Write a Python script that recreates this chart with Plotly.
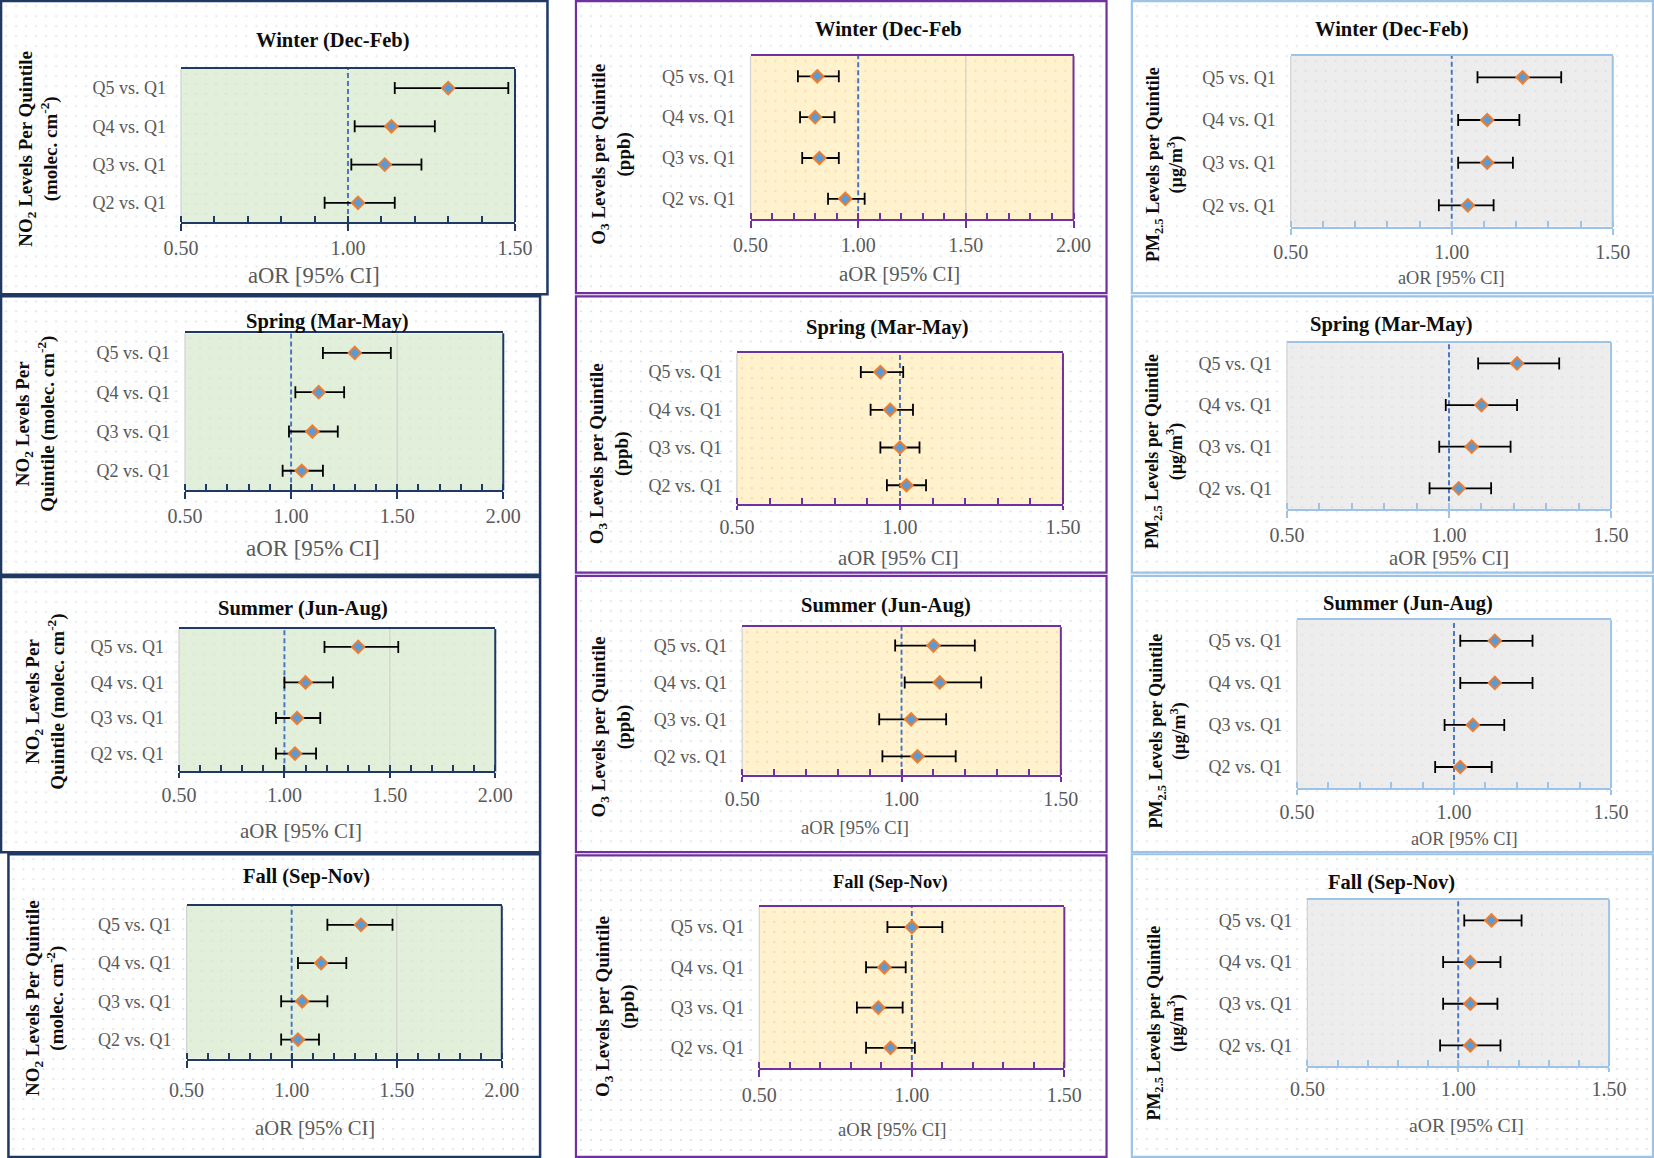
import base64
import plotly.graph_objects as go

# ---------------- data ----------------
categories = ["Q2 vs. Q1", "Q3 vs. Q1", "Q4 vs. Q1", "Q5 vs. Q1"]
season_titles = ["Winter (Dec-Feb)", "Spring (Mar-May)", "Summer (Jun-Aug)", "Fall (Sep-Nov)"]
o3_season_titles = ["Winter (Dec-Feb", "Spring (Mar-May)", "Summer (Jun-Aug)", "Fall (Sep-Nov)"]
x_axis_title = "aOR [95% CI]"

no2_winter_aor = [1.03, 1.11, 1.13, 1.30]
no2_winter_lo = [0.93, 1.01, 1.02, 1.14]
no2_winter_hi = [1.14, 1.22, 1.26, 1.48]
no2_spring_aor = [1.05, 1.10, 1.13, 1.30]
no2_spring_lo = [0.96, 0.99, 1.02, 1.15]
no2_spring_hi = [1.15, 1.22, 1.25, 1.47]
no2_summer_aor = [1.05, 1.06, 1.10, 1.35]
no2_summer_lo = [0.96, 0.96, 1.00, 1.19]
no2_summer_hi = [1.15, 1.17, 1.23, 1.54]
no2_fall_aor = [1.03, 1.05, 1.14, 1.33]
no2_fall_lo = [0.95, 0.95, 1.03, 1.17]
no2_fall_hi = [1.13, 1.17, 1.26, 1.48]

o3_winter_aor = [0.94, 0.82, 0.80, 0.81]
o3_winter_lo = [0.86, 0.74, 0.73, 0.72]
o3_winter_hi = [1.03, 0.91, 0.89, 0.91]
o3_spring_aor = [1.02, 1.00, 0.97, 0.94]
o3_spring_lo = [0.96, 0.94, 0.91, 0.88]
o3_spring_hi = [1.08, 1.06, 1.04, 1.01]
o3_summer_aor = [1.05, 1.03, 1.12, 1.10]
o3_summer_lo = [0.94, 0.93, 1.01, 0.98]
o3_summer_hi = [1.17, 1.14, 1.25, 1.23]
o3_fall_aor = [0.93, 0.89, 0.91, 1.00]
o3_fall_lo = [0.85, 0.82, 0.85, 0.92]
o3_fall_hi = [1.01, 0.97, 0.98, 1.10]

pm_winter_aor = [1.05, 1.11, 1.11, 1.22]
pm_winter_lo = [0.96, 1.02, 1.02, 1.08]
pm_winter_hi = [1.13, 1.19, 1.21, 1.34]
pm_spring_aor = [1.03, 1.07, 1.10, 1.21]
pm_spring_lo = [0.94, 0.97, 0.99, 1.09]
pm_spring_hi = [1.13, 1.19, 1.21, 1.34]
pm_summer_aor = [1.02, 1.06, 1.13, 1.13]
pm_summer_lo = [0.94, 0.97, 1.02, 1.02]
pm_summer_hi = [1.12, 1.16, 1.25, 1.25]
pm_fall_aor = [1.04, 1.04, 1.04, 1.11]
pm_fall_lo = [0.94, 0.95, 0.95, 1.02]
pm_fall_hi = [1.14, 1.13, 1.14, 1.21]

x_min = 0.5
no2_x_max = [1.5, 2.0, 2.0, 2.0]
o3_x_max = [2.0, 1.5, 1.5, 1.5]
pm_x_max = [1.5, 1.5, 1.5, 1.5]
major_ticks = [0.5, 1.0, 1.5, 2.0]
reference_aor = 1.0

no2_ytitles = [["NO<sub>2</sub> Levels Per Quintile", "(molec. cm<sup>-2</sup>)"],
               ["NO<sub>2</sub> Levels Per", "Quintile (molec. cm<sup>-2</sup>)"],
               ["NO<sub>2</sub> Levels Per", "Quintile (molec. cm<sup>-2</sup>)"],
               ["NO<sub>2</sub> Levels Per Quintile", "(molec. cm<sup>-2</sup>)"]]
o3_ytitle = ["O<sub>3</sub> Levels per Quintile", "(ppb)"]
pm_ytitle = ["PM<sub>2.5</sub> Levels per Quintile", "(µg/m<sup>3</sup>)"]

# ---------------- layout geometry (reference pixel space 1568 x 1098) ----------------
RW, RH = 1568.0, 1098.0
FW, FH = 1654, 1158
S = FW / RW


def fx(p):
    return p / RW


def fy(p):
    return 1 - p / RH


FONT = "Liberation Serif, Times New Roman, serif"

groups = [
    dict(data=[(no2_winter_aor, no2_winter_lo, no2_winter_hi), (no2_spring_aor, no2_spring_lo, no2_spring_hi),
               (no2_summer_aor, no2_summer_lo, no2_summer_hi), (no2_fall_aor, no2_fall_lo, no2_fall_hi)],
         titles=season_titles, xmax=no2_x_max, ytitles=no2_ytitles,
         frame_color="#1F3864", frame_w=2.5, axis_color="#1F3864", bg="#E2EFDA", dot_in="#D5E3CC",
         frames=[(1, 1, 519, 279), (1, 281, 512, 545), (1, 547, 512, 808), (8, 810, 512, 1097)],
         plots=[(171.6, 65.4, 488.2, 210.4), (175.4, 316.0, 477.1, 465.0),
                (169.7, 596.5, 469.5, 731.4), (176.9, 858.8, 475.7, 1003.8)],
         title_pos=[(316, 38), (310, 305), (287, 577), (291, 831)], title_size=[20.5, 20.5, 20.5, 20.5],
         ytitle_pos=[(37, 141), (34, 402), (43, 665), (43, 946)], ytitle_size=19,
         aor_pos=[(297.5, 261), (297, 520), (285, 788), (299, 1069.5)], aor_size=[22.6, 22.9, 20.9, 20.6],
         x_off=[26, 26, 23.4, 30.8]),
    dict(data=[(o3_winter_aor, o3_winter_lo, o3_winter_hi), (o3_spring_aor, o3_spring_lo, o3_spring_hi),
               (o3_summer_aor, o3_summer_lo, o3_summer_hi), (o3_fall_aor, o3_fall_lo, o3_fall_hi)],
         titles=o3_season_titles, xmax=o3_x_max, ytitles=[o3_ytitle] * 4,
         frame_color="#7030A0", frame_w=2.2, axis_color="#7030A0", bg="#FFF2CC", dot_in="#F8CBAD",
         frames=[(546, 1, 1049, 278), (546, 281, 1049, 543), (546, 546, 1049, 808), (546, 811, 1049, 1097)],
         plots=[(711.5, 53.0, 1017.7, 207.9), (698.6, 334.9, 1007.7, 478.0),
                (703.6, 594.6, 1005.7, 734.6), (719.8, 860.0, 1009.0, 1012.6)],
         title_pos=[(842, 28), (841.5, 311), (839.5, 574), (844.5, 837)], title_size=[20.5, 20.5, 20.5, 18.5],
         ytitle_pos=[(580, 146), (578, 430), (580, 689), (583, 954)], ytitle_size=19,
         aor_pos=[(853, 259), (852, 529), (811, 785), (846, 1071)], aor_size=[20.8, 20.7, 18.5, 18.6],
         x_off=[25.6, 23, 23.3, 26.7]),
    dict(data=[(pm_winter_aor, pm_winter_lo, pm_winter_hi), (pm_spring_aor, pm_spring_lo, pm_spring_hi),
               (pm_summer_aor, pm_summer_lo, pm_summer_hi), (pm_fall_aor, pm_fall_lo, pm_fall_hi)],
         titles=season_titles, xmax=pm_x_max, ytitles=[pm_ytitle] * 4,
         frame_color="#9DC3E6", frame_w=2.2, axis_color="#9DC3E6", bg="#EDEDED", dot_in="#DCDCDC",
         frames=[(1073, 1, 1567, 278), (1073, 281, 1567, 543), (1073, 546, 1567, 808), (1073, 810, 1567, 1097)],
         plots=[(1223.6, 53.1, 1528.9, 214.9), (1220.0, 324.8, 1527.3, 482.8),
                (1229.5, 587.7, 1527.3, 747.2), (1239.4, 853.0, 1525.4, 1011.0)],
         title_pos=[(1319.5, 28), (1318.7, 308), (1334.8, 572), (1318.7, 837)], title_size=[20.5, 20.5, 20.5, 20.5],
         ytitle_pos=[(1104, 156), (1104, 428), (1107, 693), (1105, 970)], ytitle_size=18,
         aor_pos=[(1376, 264), (1373.6, 529), (1388, 796), (1390, 1067)], aor_size=[18.3, 20.6, 18.3, 19.7],
         x_off=[25, 25.5, 23.4, 23.2]),
]


def dots_uri(w, h, bg, dot, step=10, r=0.95):
    w = int(round(w)); h = int(round(h))
    svg = (f'<svg xmlns="http://www.w3.org/2000/svg" width="{w}" height="{h}" viewBox="0 0 {w} {h}">'
           f'<defs><pattern id="p" width="{step}" height="{step}" patternUnits="userSpaceOnUse">'
           f'<circle cx="{step/2}" cy="{step/2}" r="{r}" fill="{dot}"/></pattern></defs>')
    if bg:
        svg += f'<rect width="{w}" height="{h}" fill="{bg}"/>'
    svg += f'<rect width="{w}" height="{h}" fill="url(#p)"/></svg>'
    return "data:image/svg+xml;base64," + base64.b64encode(svg.encode()).decode()


fig = go.Figure()
shapes, annotations, images = [], [], []
layout_axes = {}
idx = 0
for g in groups:
    for k in range(4):
        idx += 1
        xa = "x" if idx == 1 else f"x{idx}"
        ya = "y" if idx == 1 else f"y{idx}"
        xkey = "xaxis" if idx == 1 else f"xaxis{idx}"
        ykey = "yaxis" if idx == 1 else f"yaxis{idx}"
        aor, lo, hi = g["data"][k]
        px0, py0, px1, py1 = g["plots"][k]
        xmax = g["xmax"][k]

        fig.add_trace(go.Scatter(
            x=aor, y=categories, mode="markers", xaxis=xa, yaxis=ya, showlegend=False,
            marker=dict(symbol="diamond", size=9.5, color="#5B9BD5", line=dict(color="#ED7D31", width=2)),
            error_x=dict(type="data", symmetric=False,
                         array=[h - a for h, a in zip(hi, aor)],
                         arrayminus=[a - l for a, l in zip(aor, lo)],
                         color="#000000", thickness=1.8, width=6),
            cliponaxis=False,
        ))

        need = g["x_off"][k] * S - 27
        standoff = max(0, int(round(need)))
        ticklen = 7 if need >= 0 else max(3, int(round(7 + need)))
        layout_axes[xkey] = dict(
            domain=[fx(px0), fx(px1)], anchor=ya, range=[x_min, xmax],
            tickmode="linear", tick0=x_min, dtick=0.5, tickformat=".2f",
            showgrid=False, zeroline=False, automargin=False,
            showline=True, mirror=True, linecolor=g["axis_color"], linewidth=2,
            ticks="outside", ticklen=ticklen, tickwidth=1.5, tickcolor=g["axis_color"],
            minor=dict(tick0=x_min, dtick=0.1, ticks="inside", ticklen=6, tickwidth=1.5,
                       tickcolor=g["axis_color"], showgrid=False),
            tickfont=dict(family=FONT, size=20, color="#595959"),
            ticklabelstandoff=standoff,
            fixedrange=True,
        )
        layout_axes[ykey] = dict(
            domain=[fy(py1), fy(py0)], anchor=xa, type="category",
            categoryorder="array", categoryarray=categories, range=[-0.5, 3.5],
            showgrid=False, zeroline=False, showline=False, ticks="", automargin=False,
            tickfont=dict(family=FONT, size=18, color="#595959"),
            ticklabelstandoff=14, fixedrange=True,
        )

        # frame dot texture
        fx0, fy0, fx1, fy1 = g["frames"][k]
        images.append(dict(source=dots_uri((fx1 - fx0) * S, (fy1 - fy0) * S, None, "#D2DCE8"),
                           xref="paper", yref="paper", x=fx(fx0), y=fy(fy0),
                           sizex=fx(fx1) - fx(fx0), sizey=fy(fy0) - fy(fy1),
                           xanchor="left", yanchor="top", sizing="stretch", layer="below"))
        # plot-area background (fill + dot texture)
        images.append(dict(source=dots_uri((px1 - px0) * S, (py1 - py0) * S, g["bg"], g["dot_in"]),
                           xref="paper", yref="paper", x=fx(px0), y=fy(py0),
                           sizex=fx(px1) - fx(px0), sizey=fy(py0) - fy(py1),
                           xanchor="left", yanchor="top", sizing="stretch", layer="below"))
        # frame
        shapes.append(dict(type="rect", xref="paper", yref="paper", layer="above",
                           x0=fx(fx0), x1=fx(fx1), y0=fy(fy1), y1=fy(fy0),
                           line=dict(color=g["frame_color"], width=g["frame_w"]), fillcolor="rgba(0,0,0,0)"))
        # vertical gridlines (except where the reference line sits)
        for t in major_ticks:
            if x_min < t < xmax and t != reference_aor:
                shapes.append(dict(type="line", xref=xa, yref="paper", layer="below",
                                   x0=t, x1=t, y0=fy(py1), y1=fy(py0),
                                   line=dict(color="#D0D0D0", width=1.2)))
        # left edge gridline at 0.50 (light grey)
        shapes.append(dict(type="line", xref="paper", yref="paper", layer="below",
                           x0=fx(px0), x1=fx(px0), y0=fy(py1), y1=fy(py0),
                           line=dict(color="#D0D0D0", width=1.2)))
        # reference line at aOR = 1
        shapes.append(dict(type="line", xref=xa, yref="paper", layer="below",
                           x0=reference_aor, x1=reference_aor, y0=fy(py1), y1=fy(py0),
                           line=dict(color="#4472C4", width=1.9, dash="5px,3px")))
        # right border of plot area
        shapes.append(dict(type="line", xref="paper", yref="paper", layer="above",
                           x0=fx(px1), x1=fx(px1), y0=fy(py1), y1=fy(py0),
                           line=dict(color=g["axis_color"], width=2)))

        tx, ty = g["title_pos"][k]
        annotations.append(dict(text=f"<b>{g['titles'][k]}</b>", xref="paper", yref="paper",
                                x=fx(tx), y=fy(ty), xanchor="center", yanchor="middle", showarrow=False,
                                font=dict(family=FONT, size=g["title_size"][k], color="#0D0D0D")))
        yx, yy = g["ytitle_pos"][k]
        l1, l2 = g["ytitles"][k]
        annotations.append(dict(text=f"<b>{l1}</b><br><b>{l2}</b>", xref="paper", yref="paper",
                                x=fx(yx), y=fy(yy), xanchor="center", yanchor="middle", showarrow=False,
                                textangle=-90, align="center",
                                font=dict(family=FONT, size=g["ytitle_size"], color="#0D0D0D")))
        ax_, ay_ = g["aor_pos"][k]
        annotations.append(dict(text=x_axis_title, xref="paper", yref="paper",
                                x=fx(ax_), y=fy(ay_), xanchor="center", yanchor="middle", showarrow=False,
                                font=dict(family=FONT, size=g["aor_size"][k], color="#595959")))

fig.update_layout(
    width=FW, height=FH, autosize=False,
    margin=dict(l=0, r=0, t=0, b=0, pad=0, autoexpand=False),
    paper_bgcolor="#FFFFFF", plot_bgcolor="rgba(0,0,0,0)",
    font=dict(family=FONT, color="#595959"),
    shapes=shapes, annotations=annotations, images=images,
    showlegend=False,
    **layout_axes,
)

fig.write_html("out.html", config=dict(displayModeBar=False),
               post_script="document.body.style.margin='0';document.body.style.overflow='hidden';")
